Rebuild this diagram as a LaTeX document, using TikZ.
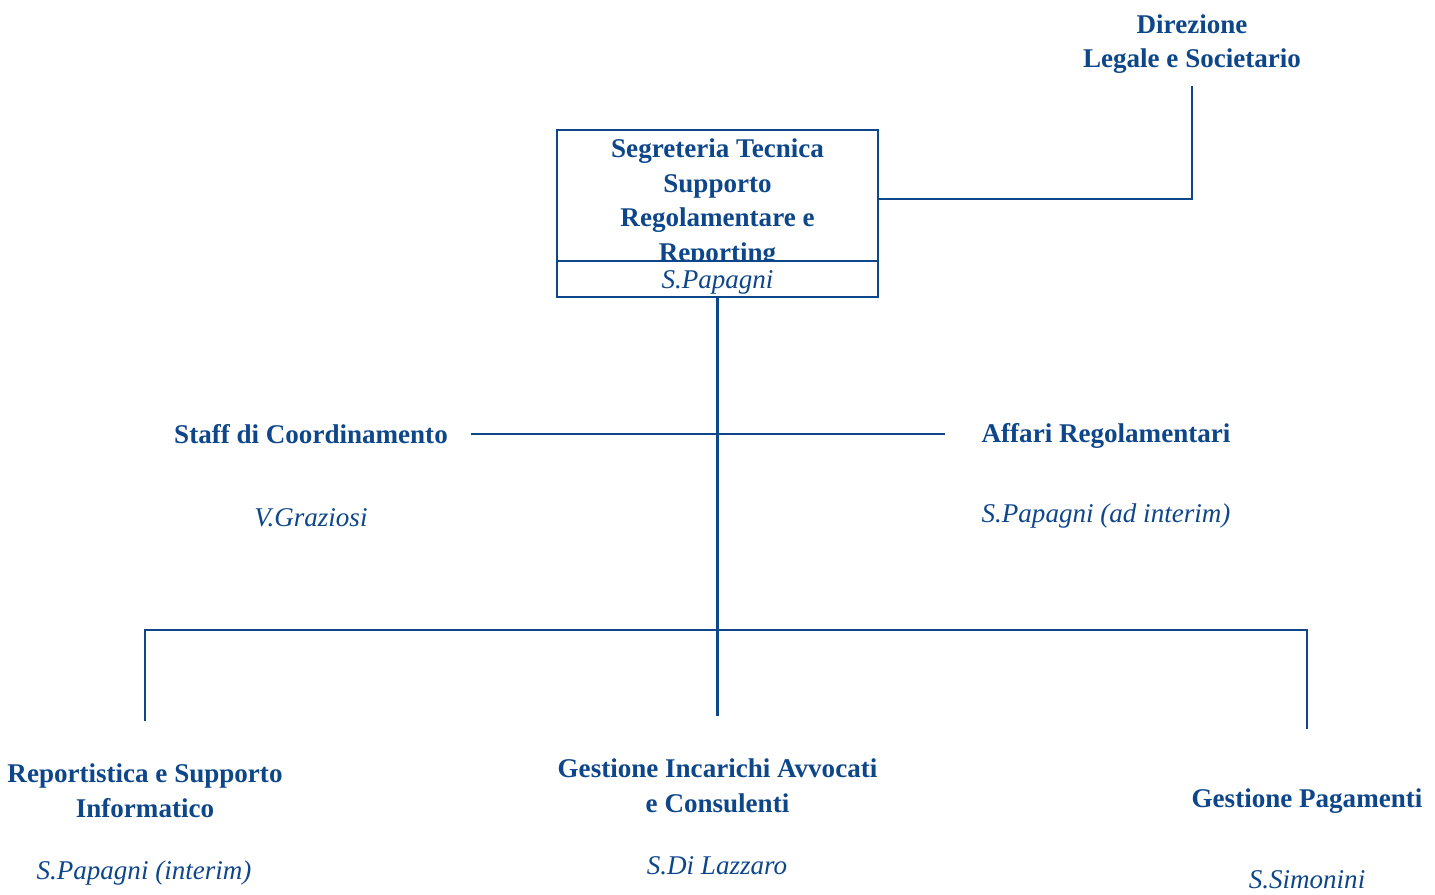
\documentclass[tikz,border=0pt]{standalone}
\usepackage{fontspec}
\setmainfont{Liberation Serif}
\usetikzlibrary{positioning}
\definecolor{navy}{RGB}{14,70,138}
\tikzset{
    unitnode/.style = {align=center, text=navy, font=\fontsize{15.4}{19.8}\selectfont\bfseries},
    namenode/.style = {align=center, text=navy, font=\fontsize{15.4}{19.8}\selectfont\itshape},
    framebox/.style = {rectangle, draw=navy, line width=1.4pt, minimum width=6.42cm, minimum height=2.62cm},
    namebox/.style = {rectangle, draw=navy, line width=1.4pt, fill=white, minimum width=6.42cm, minimum height=0.72cm, inner sep=0pt},
    edgen/.style = {draw=navy, line width=1.4pt}
}

\begin{document}
\begin{tikzpicture}[x=0.02cm, y=-0.02cm]
\useasboundingbox (0,0) rectangle (1435,894);
\node[unitnode] at (1192,44) (dir) {Direzione\\Legale e Societario};
\node[framebox] at (717.5,195.5) (seg) {};
\node[unitnode] at (717.5,203) (segtxt) {Segreteria Tecnica\\Supporto\\Regolamentare e\\Reporting};
\node[namebox] at (717.5,279) (segname) {};
\node[namenode] at (717.5,282) (segnametxt) {S.Papagni};
%
\node[unitnode] at (311,434) (staff) {Staff di Coordinamento};
\node[namenode] at (311,518) (staffname) {V.Graziosi};
\node[unitnode] at (1106,436) (affari) {Affari Regolamentari};
\node[namenode] at (1106,516) (affariname) {S.Papagni (ad interim)};
%
\node[unitnode] at (145,791) (rep) {Reportistica e Supporto\\Informatico};
\node[namenode] at (144,873) (repname) {S.Papagni (interim)};
\node[unitnode] at (717.5,786) (gia) {Gestione Incarichi Avvocati\\e Consulenti};
\node[namenode] at (717,866) (gianame) {S.Di Lazzaro};
\node[unitnode] at (1307,801) (pag) {Gestione Pagamenti};
\node[namenode] at (1307,880) (pagname) {S.Simonini};
\coordinate (hub) at (717.5,630);
%
\draw[edgen, shorten <=0.12cm] (dir.south) |- ([yshift=-0.07cm]seg.east);
\draw[edgen, shorten >=0.74cm] (segname.south) -- (gia.north);
\draw[edgen, shorten <=0.34cm, shorten >=0.6cm] (staff.east) -- (affari.west |- staff.east);
\draw[edgen, shorten >=0.74cm] (hub) -| (rep.north);
\draw[edgen, shorten >=1.06cm] (hub) -| (pag.north);
\end{tikzpicture}
\end{document}
